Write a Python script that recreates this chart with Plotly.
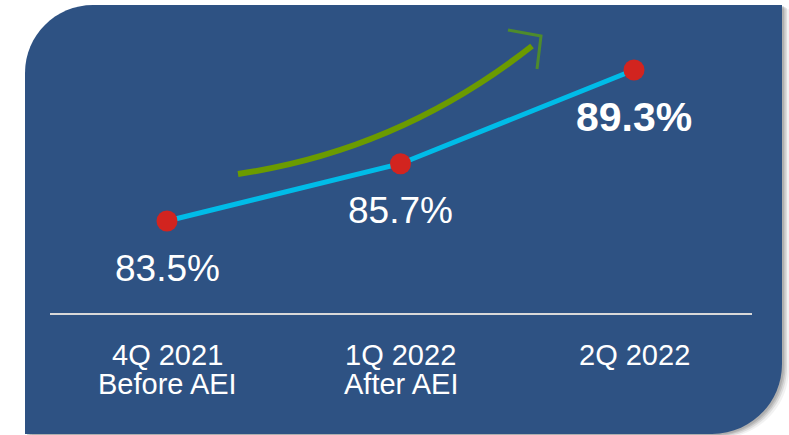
import plotly.graph_objects as go

# ---- data ----
categories = ["4Q 2021", "1Q 2022", "2Q 2022"]
category_sub = ["Before AEI", "After AEI", ""]
occupancy = [83.5, 85.7, 89.3]
value_labels = ["83.5%", "85.7%", "89.3%"]

W, H = 789, 435
BG = "#2E5283"

def P(px, py):
    return f"{px / W:.5f},{1 - py / H:.5f}"

def panel_path(dx=0.0, dy=0.0, left=25, top=5, right=782, bottom=434, r1=68, r2=70):
    k = 0.5523
    l, t, rr, b = left + dx, top + dy, right + dx, bottom + dy
    return (
        f"M {P(l, b)} L {P(l, t + r1)} "
        f"C {P(l, t + r1 - k * r1)} {P(l + r1 - k * r1, t)} {P(l + r1, t)} "
        f"L {P(rr, t)} L {P(rr, b - r2)} "
        f"C {P(rr, b - r2 + k * r2)} {P(rr - r2 + k * r2, b)} {P(rr - r2, b)} "
        f"L {P(l, b)} Z"
    )

shapes = []
# soft shadow
for off, op in [(7, 0.10), (5, 0.18), (3.5, 0.25), (2, 0.30)]:
    shapes.append(dict(type="path", xref="paper", yref="paper", layer="below",
                       path=panel_path(off, off * 0.6), fillcolor="#7F7F7F",
                       opacity=op, line=dict(width=0)))
# panel
shapes.append(dict(type="path", xref="paper", yref="paper", layer="below",
                   path=panel_path(), fillcolor=BG, line=dict(width=0)))
# divider line
shapes.append(dict(type="line", xref="paper", yref="paper", layer="below",
                   x0=50 / W, x1=752 / W, y0=1 - 314 / H, y1=1 - 314 / H,
                   line=dict(color="#D9D9D9", width=2)))
# green trend arrow (decoration)
shapes.append(dict(type="path", xref="paper", yref="paper",
                   path=f"M {P(238, 174)} Q {P(400, 150)} {P(532, 46)}",
                   line=dict(color="#6B9B00", width=6)))
shapes.append(dict(type="path", xref="paper", yref="paper",
                   path=f"M {P(508, 30)} L {P(541, 36)} L {P(537, 69)}",
                   line=dict(color="#4E8B2C", width=3)))

x_idx = list(range(len(categories)))

fig = go.Figure()
fig.add_trace(go.Scatter(
    x=x_idx, y=occupancy, mode="lines+markers",
    line=dict(color="#00BCE8", width=5),
    marker=dict(color="#D2241F", size=21, line=dict(width=0)),
    hoverinfo="skip", showlegend=False,
))

annotations = []
for i, (v, lab) in enumerate(zip(occupancy, value_labels)):
    last = i == len(occupancy) - 1
    annotations.append(dict(
        x=i, y=v, xref="x", yref="y", text=f"<b>{lab}</b>" if last else lab,
        showarrow=False, yshift=-47, xanchor="center", yanchor="middle",
        font=dict(family="Liberation Sans", size=41 if last else 37, color="white"),
    ))
for i, (c1, c2) in enumerate(zip(categories, category_sub)):
    annotations.append(dict(
        x=i, y=1 - 355 / H, xref="x", yref="paper", text=c1, showarrow=False,
        xanchor="center", yanchor="middle",
        font=dict(family="Liberation Sans", size=29, color="white"),
    ))
    if c2:
        annotations.append(dict(
            x=i, y=1 - 384 / H, xref="x", yref="paper", text=c2, showarrow=False,
            xanchor="center", yanchor="middle",
            font=dict(family="Liberation Sans", size=29, color="white"),
        ))

fig.update_layout(
    width=W, height=H, autosize=False,
    margin=dict(l=0, r=0, t=0, b=0),
    paper_bgcolor="white", plot_bgcolor="rgba(0,0,0,0)",
    xaxis=dict(range=[-0.7152, 2.6638], visible=False, fixedrange=True),
    yaxis=dict(range=[75.279, 91.990], visible=False, fixedrange=True),
    shapes=shapes, annotations=annotations,
)

fig.write_html(
    "out.html",
    config={"displayModeBar": False},
    post_script="document.body.style.margin='0px';document.body.style.overflow='hidden';",
)
